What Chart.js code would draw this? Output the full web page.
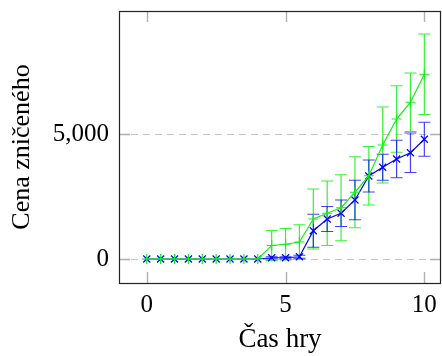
<!DOCTYPE html>
<html>
<head>
<meta charset="utf-8">
<script src="https://cdn.jsdelivr.net/npm/chart.js@4/dist/chart.umd.min.js"></script>
<style>
  html, body { margin: 0; padding: 0; background: #fff; }
  #chart { display: block; }
</style>
</head>
<body>
<canvas id="chart" width="442" height="356"></canvas>
<script>
// --- datos ---
const casHry = [0, 0.5, 1, 1.5, 2, 2.5, 3, 3.5, 4, 4.5, 5, 5.5, 6, 6.5, 7, 7.5, 8, 8.5, 9, 9.5, 10];

const modraCena = [0, 0, 0, 0, 0, 0, 0, 0, 0, 50, 50, 90, 1130, 1600, 1830, 2360, 3320, 3670, 4000, 4250, 4790];
const modraChyba = [0, 0, 0, 0, 0, 0, 0, 0, 0, 40, 40, 60, 660, 500, 530, 790, 640, 520, 750, 790, 680];

const zelenaCena = [0, 0, 0, 0, 0, 0, 0, 0, 0, 540, 590, 680, 1600, 1830, 2050, 2670, 3330, 4560, 5600, 6270, 7390];
const zelenaChyba = [0, 0, 0, 0, 0, 0, 0, 0, 0, 600, 630, 690, 1200, 1290, 1320, 1420, 1170, 1520, 1330, 1170, 1610];

const xTicks = [0, 5, 10];
const yTicks = [0, 5000];

const serif = '"Liberation Serif", "DejaVu Serif", serif';

const toPoints = (ys) => casHry.map((x, i) => ({ x: x, y: ys[i] }));

// Plugin: barras de error + marco + marcas internas
const errorBarsPlugin = {
    id: 'errorBars',
    beforeDatasetsDraw(chart) {
        const ctx = chart.ctx;
        const xs = chart.scales.x;
        const ys = chart.scales.y;
        chart.data.datasets.forEach(ds => {
            if (!ds.errors) return;
            ctx.save();
            ctx.strokeStyle = ds.errorColor;
            ctx.lineWidth = 1.2;
            ds.data.forEach((p, i) => {
                const e = ds.errors[i];
                if (!e) return;
                const px = xs.getPixelForValue(p.x);
                const top = ys.getPixelForValue(p.y + e);
                const bot = ys.getPixelForValue(p.y - e);
                ctx.beginPath();
                ctx.moveTo(px, top);
                ctx.lineTo(px, bot);
                ctx.moveTo(px - 6, top);
                ctx.lineTo(px + 6, top);
                ctx.moveTo(px - 6, bot);
                ctx.lineTo(px + 6, bot);
                ctx.stroke();
            });
            ctx.restore();
        });
    },
    afterDraw(chart) {
        const ctx = chart.ctx;
        const a = chart.chartArea;
        const xs = chart.scales.x;
        const ys = chart.scales.y;
        ctx.save();
        // marcas internas grises
        ctx.strokeStyle = '#b0b0b0';
        ctx.lineWidth = 1.4;
        ctx.beginPath();
        xTicks.forEach(v => {
            const px = Math.round(xs.getPixelForValue(v)) + 0.5;
            ctx.moveTo(px, a.top); ctx.lineTo(px, a.top + 11);
            ctx.moveTo(px, a.bottom); ctx.lineTo(px, a.bottom - 11);
        });
        yTicks.forEach(v => {
            const py = Math.round(ys.getPixelForValue(v)) + 0.5;
            ctx.moveTo(a.left, py); ctx.lineTo(a.left + 11, py);
            ctx.moveTo(a.right, py); ctx.lineTo(a.right - 11, py);
        });
        ctx.stroke();
        // marco
        ctx.strokeStyle = '#222';
        ctx.lineWidth = 1.2;
        ctx.strokeRect(a.left + 0.5, a.top + 0.5, a.right - a.left - 1, a.bottom - a.top);
        ctx.restore();
    }
};

new Chart(document.getElementById('chart'), {
    type: 'line',
    data: {
        datasets: [
            {
                label: 'zelená',
                data: toPoints(zelenaCena),
                errors: zelenaChyba,
                errorColor: 'rgba(20, 240, 20, 0.85)',
                borderColor: 'rgb(20, 240, 20)',
                backgroundColor: 'rgb(20, 240, 20)',
                borderWidth: 1.2,
                pointStyle: 'cross',
                pointRadius: 5,
                pointBorderWidth: 1.2,
                tension: 0
            },
            {
                label: 'modrá',
                data: toPoints(modraCena),
                errors: modraChyba,
                errorColor: 'rgba(0, 0, 255, 0.75)',
                borderColor: 'rgb(0, 0, 255)',
                backgroundColor: 'rgb(0, 0, 255)',
                borderWidth: 1.2,
                pointStyle: 'crossRot',
                pointRadius: 5,
                pointBorderWidth: 1.2,
                tension: 0
            }
        ]
    },
    options: {
        responsive: false,
        animation: false,
        layout: { autoPadding: false, padding: { top: 11, right: 1, left: 0, bottom: 0 } },
        plugins: {
            legend: { display: false },
            tooltip: { enabled: false }
        },
        scales: {
            x: {
                type: 'linear',
                min: -1,
                max: 10.6,
                afterBuildTicks: s => { s.ticks = xTicks.map(v => ({ value: v })); },
                afterFit: s => { s.height = 73; s.paddingLeft = 0; s.paddingRight = 0; },
                grid: { display: false, drawTicks: false },
                border: { display: false },
                ticks: {
                    color: '#000',
                    padding: 7,
                    font: { family: serif, size: 25 },
                    callback: v => v.toString()
                },
                title: {
                    display: true,
                    text: 'Čas hry',
                    color: '#000',
                    padding: { top: 0, bottom: 0 },
                    font: { family: serif, size: 27 }
                }
            },
            y: {
                type: 'linear',
                min: -960,
                max: 9920,
                afterBuildTicks: s => { s.ticks = yTicks.map(v => ({ value: v })); },
                afterFit: s => { s.width = 119; s.paddingTop = 0; s.paddingBottom = 0; },
                grid: { color: '#c4c4c4', lineWidth: 1, drawTicks: false },
                border: { display: false, dash: [7, 5] },
                ticks: {
                    color: '#000',
                    padding: 10,
                    font: { family: serif, size: 25 },
                    callback: v => v.toLocaleString('en-US')
                },
                title: {
                    display: true,
                    text: 'Cena zničeného',
                    color: '#000',
                    padding: { top: 7, bottom: 0 },
                    font: { family: serif, size: 26 }
                }
            }
        }
    },
    plugins: [errorBarsPlugin]
});
</script>
</body>
</html>
